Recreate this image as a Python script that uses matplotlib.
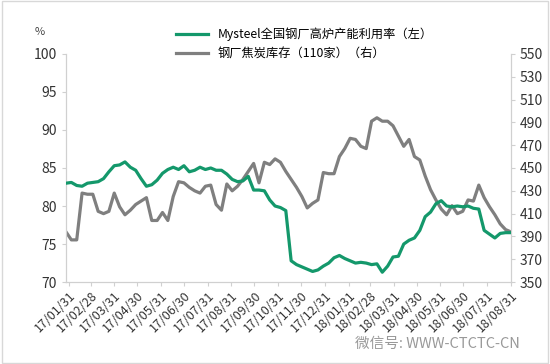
import pandas as pd
import matplotlib.pyplot as plt
import matplotlib.dates as mdates
from matplotlib.patches import Rectangle

plt.rcParams['font.family'] = ['Noto Sans CJK SC', 'DejaVu Sans']

dates = pd.date_range("2017-01-27", "2018-08-31", freq="W-FRI")

# Mysteel全国钢厂高炉产能利用率 (left, %)
util = [83.0, 83.1, 82.7, 82.6, 83.0, 83.1, 83.2, 83.6, 84.5, 85.3,
        85.4, 85.8, 85.1, 84.7, 83.6, 82.6, 82.8, 83.4, 84.3, 84.8,
        85.1, 84.8, 85.3, 84.5, 84.7, 85.1, 84.8, 85.0, 84.7, 84.7,
        84.2, 83.5, 83.2, 83.3, 83.9, 82.1, 82.1, 82.0, 80.8, 80.0,
        79.8, 79.4, 72.8, 72.3, 72.0, 71.7, 71.4, 71.6, 72.1, 72.5,
        73.2, 73.5, 73.1, 72.8, 72.5, 72.6, 72.5, 72.3, 72.4, 71.3,
        72.1, 73.3, 73.4, 75.0, 75.5, 75.8, 76.8, 78.6, 79.2, 80.3,
        80.7, 80.0, 79.9, 80.0, 79.9, 80.0, 79.7, 79.6, 76.8, 76.3,
        75.8, 76.4, 76.5, 76.5]

# 钢厂焦炭库存(110家) (right)
coke = [394, 387, 387, 428, 427, 427, 412, 410, 412, 428,
        416, 409, 413, 418, 421, 424, 404, 404, 411, 404,
        425, 438, 437, 433, 430, 428, 434, 435, 418, 413,
        436, 430, 434, 440, 447, 454, 437, 455, 453, 458,
        455, 447, 440, 433, 425, 415, 419, 422, 446, 445,
        445, 460, 467, 476, 475, 469, 467, 491, 494, 491,
        491, 487, 478, 469, 475, 460, 457, 443, 431, 422,
        414, 409, 417, 410, 412, 422, 421, 435, 424, 416,
        409, 401, 396, 394]

green = "#14986b"
gray = "#7f7f7f"
spine_c = "#d0d0d0"

fig = plt.figure(figsize=(5.5, 3.64), dpi=100)
fig.patches.append(Rectangle((0.003, 0.003), 0.994, 0.994, transform=fig.transFigure,
                             fill=False, edgecolor="#d8d8d8", linewidth=1))
ax = fig.add_axes([0.12, 0.225, 0.809, 0.627])
ax2 = ax.twinx()

l1, = ax.plot(dates, util, color=green, linewidth=2.3, zorder=3)
l2, = ax2.plot(dates, coke, color=gray, linewidth=2.3)
ax.set_zorder(ax2.get_zorder() + 1)
ax.patch.set_visible(False)

ax.set_ylim(70, 100)
ax.set_yticks(range(70, 101, 5))
ax2.set_ylim(350, 550)
ax2.set_yticks(range(350, 551, 20))
ax.set_xlim(dates[0], dates[-1])

months = pd.date_range("2017-01-31", "2018-08-31", freq="ME")
ax.set_xticks(months)
ax.xaxis.set_major_formatter(mdates.DateFormatter("%y/%m/%d"))
for lab in ax.get_xticklabels():
    lab.set_rotation(45)
    lab.set_ha("right")
    lab.set_rotation_mode("anchor")

for a in (ax, ax2):
    for s in a.spines.values():
        s.set_color(spine_c)
    a.spines["top"].set_visible(False)
    a.tick_params(colors=spine_c, labelcolor="#333333", length=3, labelsize=10)
ax.tick_params(axis="x", labelsize=9, pad=2)

fig.text(0.072, 0.905, "%", fontsize=8, color="#444444", ha="center")

fig.legend([l1, l2], ["Mysteel全国钢厂高炉产能利用率（左）", "钢厂焦炭库存（110家）（右）"],
           loc="upper left", bbox_to_anchor=(0.3, 0.955), frameon=False,
           fontsize=8.8, handlelength=2.6, labelspacing=0.55)

fig.text(0.945, 0.045, "微信号: WWW-CTCTC-CN", fontsize=10.5, color="#999999", ha="right")

plt.savefig("out.png")
